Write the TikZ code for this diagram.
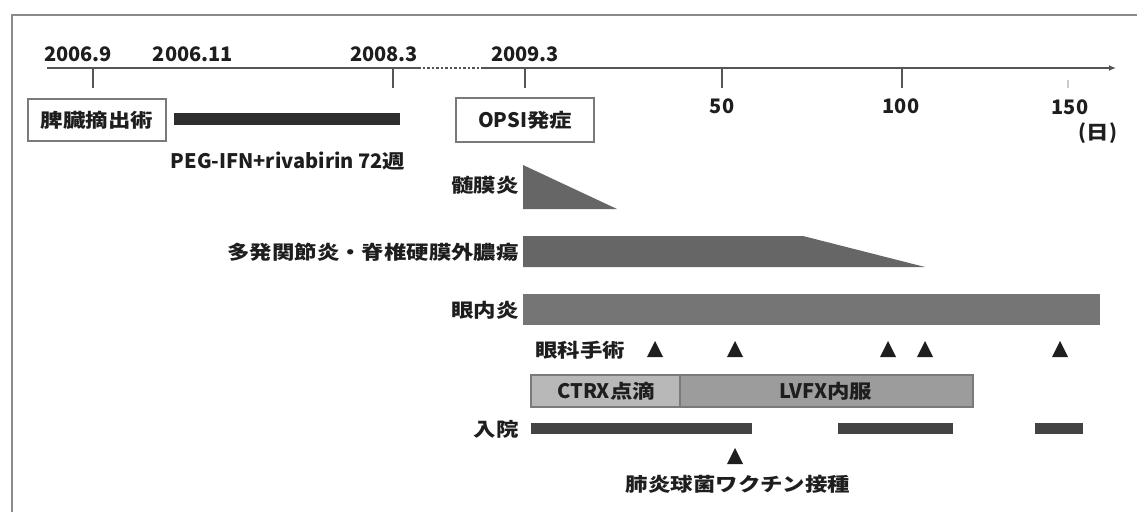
\documentclass[tikz,border=0pt]{standalone}
\usepackage{fontspec}
\setmainfont{Noto Sans CJK JP}
\newfontfamily\jpfont{Noto Sans CJK JP}[FakeStretch=1.18]
\newcommand\jtext[1]{{\jpfont\fontsize{19}{22}\selectfont\bfseries #1}}
\usetikzlibrary{arrows.meta}
\definecolor{ink}{HTML}{1E1E1E}
\definecolor{framec}{HTML}{8A8A8A}
\definecolor{axisc}{HTML}{555555}
\definecolor{darkbar}{HTML}{2E2E2E}
\definecolor{midbar}{HTML}{666666}
\definecolor{ctrxc}{HTML}{B8B8B8}
\definecolor{lvfxc}{HTML}{9C9C9C}
\definecolor{boxc}{HTML}{7A7A7A}
\begin{document}
\begin{tikzpicture}[x=1pt,y=-1pt,
  lbl/.style={font=\fontsize{20}{24}\selectfont\bfseries, text=ink, inner sep=0pt},
  framestyle/.style={draw=framec, line width=1.6pt},
  axisline/.style={draw=axisc, line width=1.3pt},
  tickline/.style={draw=axisc, line width=1.5pt},
  eventbox/.style={draw=boxc, line width=1.5pt, fill=white},
  darkfill/.style={fill=darkbar},
  midfill/.style={fill=midbar},
  markfill/.style={fill=ink}
]
\useasboundingbox (0,0) rectangle (1137,512);
\fill[white] (0,0) rectangle (1137,512);

% frame
\draw[framestyle] (12,512) -- (12,15) -- (1137,15);

% axis
\coordinate (a0) at (47,68);
\coordinate (a1) at (418,68);
\coordinate (a2) at (483,68);
\coordinate (a3) at (1116,68);
\draw[axisline] (a0) -- (a1);
\draw[axisline, line width=1.1pt, dash pattern=on 2.5pt off 2pt] (a1) -- (a2);
\draw[axisline, -{Latex[length=7pt,width=6pt]}] (a2) -- (a3);

% ticks
\foreach \x in {93,393,525,722,902}
  \draw[tickline] (\x,68) -- (\x,88);
\draw[tickline, draw=axisc!30] (1068,80) -- (1068,88);

% date labels
\node[lbl] (d1) at (78,54) {2006.9};
\node[lbl] (d2) at (193,54) {2006.11};
\node[lbl] (d3) at (384,54) {2008.3};
\node[lbl] (d4) at (525,54) {2009.3};
\node[lbl] (t50) at (722,106) {50};
\node[lbl] (t100) at (901,106) {100};
\node[lbl] (t150) at (1070,107) {150};
\node[lbl] (unit) at (1098,133) {(\jtext{日})};

% event boxes
\draw[eventbox] (28,99) rectangle (166,141);
\node[lbl] (splen) at (97,120) {\jtext{脾臓摘出術}};
\draw[eventbox] (456,98) rectangle (594,142);
\node[lbl] (opsi) at (525,120) {OPSI\jtext{発症}};

% PEG-IFN bar
\fill[darkfill] (174,113) rectangle (400,125);
\node[lbl] (peg) at (288,161) {PEG-IFN+rivabirin 72\jtext{週}};

% meningitis
\node[lbl, anchor=east] (men) at (519,185) {\jtext{髄膜炎}};
\fill[midfill] (523,165) -- (617,209) -- (523,209) -- cycle;

% polyarthritis
\node[lbl, anchor=east] (arth) at (519,252) {\jtext{多発関節炎・脊椎硬膜外膿瘍}};
\fill[midfill] (523,236) -- (803,236) -- (925,267) -- (523,267) -- cycle;

% endophthalmitis
\node[lbl, anchor=east] (endo) at (519,310) {\jtext{眼内炎}};
\fill[midfill, fill=midbar!90!white] (523,294) rectangle (1100,325);

% eye surgery
\node[lbl] (surg) at (580,350) {\jtext{眼科手術}};
\foreach \x in {655,735,888,925,1060}
  \fill[markfill] (\x-8,357) -- (\x+8,357) -- (\x,341) -- cycle;

% antibiotics
\draw[draw=boxc, line width=1.2pt, fill=ctrxc] (531,375) rectangle (680,407);
\draw[draw=boxc, line width=1.2pt, fill=lvfxc] (680,375) rectangle (973,407);
\node[lbl] (ctrx) at (606,391) {CTRX\jtext{点滴}};
\node[lbl] (lvfx) at (826,391) {LVFX\jtext{内服}};

% admission
\node[lbl, anchor=east] (adm) at (519,429) {\jtext{入院}};
\fill[darkfill, fill=darkbar!90!white] (531,423) rectangle (752,434);
\fill[darkfill, fill=darkbar!90!white] (838,423) rectangle (953,434);
\fill[darkfill, fill=darkbar!90!white] (1035,423) rectangle (1083,434);

% vaccine
\fill[markfill] (727,464) -- (743,464) -- (735,448) -- cycle;
\node[lbl] (vac) at (738,484) {\jtext{肺炎球菌ワクチン接種}};
\end{tikzpicture}
\end{document}
